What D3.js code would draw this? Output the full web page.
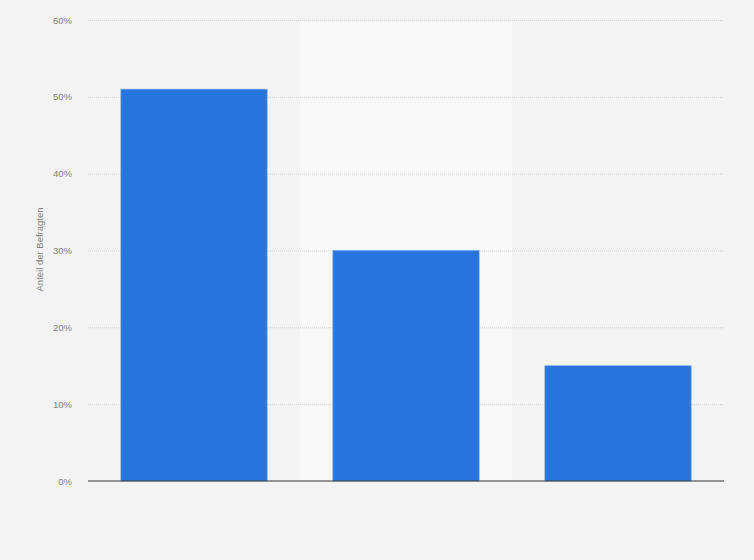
<!DOCTYPE html>
<html>
<head>
<meta charset="utf-8">
<script src="https://cdn.jsdelivr.net/npm/d3@7"></script>
<style>
  body { margin: 0; background: #f3f3f3; }
  svg { display: block; font-family: "Liberation Sans", Arial, sans-serif; }
</style>
</head>
<body>
<div id="chart"></div>
<script>
const categories = ["Kategorie 1", "Kategorie 2", "Kategorie 3"];
const values = [51, 30, 15];
const yTicks = [0, 10, 20, 30, 40, 50, 60];

const margin = {top: 20, right: 30, bottom: 79, left: 88};
const width = 754 - margin.left - margin.right;
const height = 560 - margin.top - margin.bottom;

const svg = d3.select("#chart")
    .append("svg")
    .attr("width", 754)
    .attr("height", 560);

svg.append("rect")
    .attr("width", 754)
    .attr("height", 560)
    .attr("fill", "#f3f3f3");

const g = svg.append("g")
    .attr("transform", "translate(" + margin.left + "," + margin.top + ")");

const x = d3.scaleBand()
    .domain(categories)
    .range([0, width])
    .paddingInner(0.31)
    .paddingOuter(0.155);

const band = d3.scaleBand()
    .domain(categories)
    .range([0, width]);

const y = d3.scaleLinear()
    .domain([0, 60])
    .range([height, 0]);

// alternating column background
g.selectAll(".stripe")
    .data(categories.filter((d, i) => i % 2 === 1))
    .enter()
    .append("rect")
    .attr("class", "stripe")
    .attr("x", d => band(d))
    .attr("y", 0)
    .attr("width", band.bandwidth())
    .attr("height", height)
    .attr("fill", "#f8f8f8");

// grid lines
g.selectAll(".grid")
    .data(yTicks.filter(d => d > 0))
    .enter()
    .append("line")
    .attr("class", "grid")
    .attr("x1", 0)
    .attr("x2", width)
    .attr("y1", d => y(d) + 0.5)
    .attr("y2", d => y(d) + 0.5)
    .attr("stroke", "#d0d0d0")
    .attr("stroke-dasharray", "1,1");

const yAxis = d3.axisLeft(y)
    .tickValues(yTicks)
    .tickFormat(d => d + "%")
    .tickSize(0)
    .tickPadding(16);

g.append("g")
    .call(yAxis)
    .call(s => s.select(".domain").remove())
    .selectAll("text")
    .style("font-size", "9.5px")
    .style("fill", "#808080");

g.selectAll(".bar")
    .data(values)
    .enter()
    .append("rect")
    .attr("class", "bar")
    .attr("x", (d, i) => x(categories[i]))
    .attr("y", d => y(d))
    .attr("width", x.bandwidth())
    .attr("height", d => height - y(d))
    .attr("fill", "#2876dd")
    .attr("stroke", "#6fa3ea")
    .attr("stroke-width", 0.6);

// baseline
g.append("line")
    .attr("x1", 0)
    .attr("x2", width)
    .attr("y1", height)
    .attr("y2", height)
    .attr("stroke", "#333")
    .attr("stroke-width", 1.2);

svg.append("text")
    .attr("transform", "translate(43," + (margin.top + height / 2 - 1) + ") rotate(-90)")
    .attr("text-anchor", "middle")
    .style("font-size", "9.5px")
    .style("fill", "#808080")
    .text("Anteil der Befragten");
</script>
</body>
</html>
